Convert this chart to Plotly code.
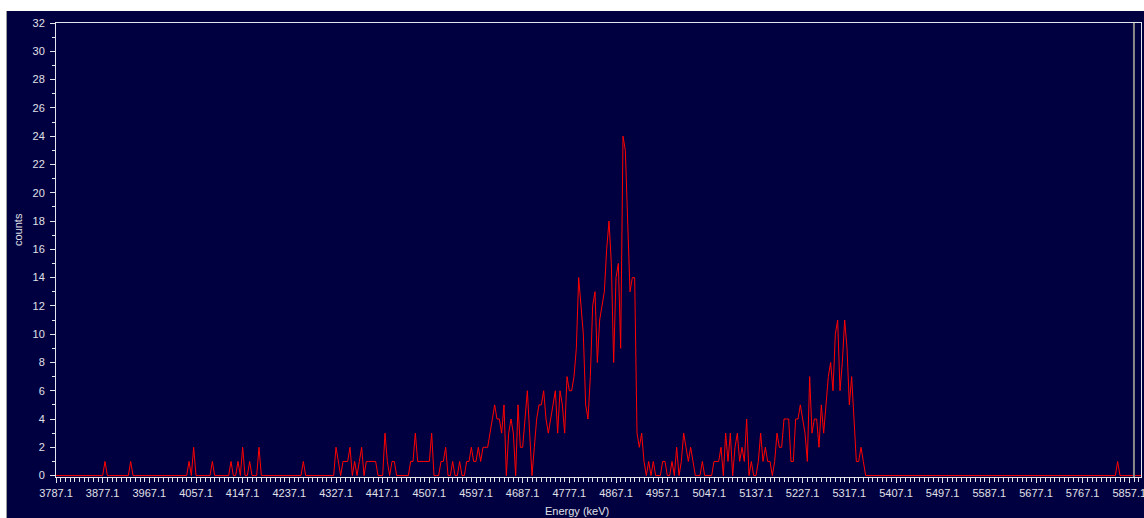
import numpy as np
import plotly.graph_objects as go

# Spectrum calibration: first channel energy and channel width (keV)
E0_KEV = 3787.1
BIN_KEV = 4.5

# Counts per channel (466 channels, 3787.1 .. 5879.6 keV)
counts = [
    0, 0, 0, 0, 0, 0, 0, 0, 0, 0, 0, 0, 0, 0, 0, 0, 0, 0, 0, 0,
    0, 1, 0, 0, 0, 0, 0, 0, 0, 0, 0, 0, 1, 0, 0, 0, 0, 0, 0, 0,
    0, 0, 0, 0, 0, 0, 0, 0, 0, 0, 0, 0, 0, 0, 0, 0, 0, 1, 0, 2,
    0, 0, 0, 0, 0, 0, 0, 1, 0, 0, 0, 0, 0, 0, 0, 1, 0, 0, 1, 0,
    2, 0, 0, 1, 0, 0, 0, 2, 0, 0, 0, 0, 0, 0, 0, 0, 0, 0, 0, 0,
    0, 0, 0, 0, 0, 0, 1, 0, 0, 0, 0, 0, 0, 0, 0, 0, 0, 0, 0, 0,
    2, 1, 0, 1, 1, 1, 2, 0, 1, 0, 1, 2, 0, 1, 1, 1, 1, 1, 0, 0,
    0, 3, 1, 0, 1, 1, 0, 0, 0, 0, 0, 0, 1, 1, 3, 1, 1, 1, 1, 1,
    1, 3, 0, 0, 0, 1, 1, 2, 0, 0, 1, 0, 0, 1, 0, 0, 1, 1, 2, 1,
    1, 2, 1, 2, 2, 2, 3, 4, 5, 4, 4, 3, 5, 0, 3, 4, 3, 0, 5, 2,
    2, 4, 6, 3, 0, 2, 4, 5, 5, 6, 4, 3, 4, 5, 6, 3, 6, 5, 3, 7,
    6, 6, 7, 9, 14, 12, 10, 5, 4, 7, 12, 13, 8, 11, 12, 13, 16, 18, 15, 8,
    14, 15, 9, 24, 23, 18, 13, 14, 14, 3, 2, 3, 1, 0, 1, 0, 1, 0, 0, 0,
    1, 1, 0, 0, 1, 0, 2, 0, 1, 3, 2, 1, 2, 1, 0, 0, 0, 1, 0, 0,
    0, 0, 1, 1, 1, 2, 0, 3, 1, 3, 0, 2, 3, 1, 2, 1, 4, 0, 1, 0,
    0, 1, 3, 1, 2, 1, 1, 0, 1, 3, 2, 2, 4, 4, 4, 1, 1, 4, 4, 5,
    4, 3, 1, 7, 3, 4, 4, 2, 5, 3, 5, 7, 8, 6, 10, 11, 6, 8, 11, 9,
    5, 7, 4, 1, 1, 2, 1, 0, 0, 0, 0, 0, 0, 0, 0, 0, 0, 0, 0, 0,
    0, 0, 0, 0, 0, 0, 0, 0, 0, 0, 0, 0, 0, 0, 0, 0, 0, 0, 0, 0,
    0, 0, 0, 0, 0, 0, 0, 0, 0, 0, 0, 0, 0, 0, 0, 0, 0, 0, 0, 0,
    0, 0, 0, 0, 0, 0, 0, 0, 0, 0, 0, 0, 0, 0, 0, 0, 0, 0, 0, 0,
    0, 0, 0, 0, 0, 0, 0, 0, 0, 0, 0, 0, 0, 0, 0, 0, 0, 0, 0, 0,
    0, 0, 0, 0, 0, 0, 0, 0, 0, 0, 0, 0, 0, 0, 0, 1, 0, 0, 0, 0,
    0, 0, 0, 0, 0, 0,
]

energy = E0_KEV + BIN_KEV * np.arange(len(counts))

X_RANGE = [3787.1, 5879.6]
Y_RANGE = [-0.1, 32]
CURSOR_KEV = 5866.0

NAVY = "#000040"
AXIS = "#e4e4ec"
TEXT = "#e0e0e8"
FONT = "Liberation Sans, Arial, sans-serif"

fig = go.Figure()
fig.add_trace(go.Scatter(
    x=energy, y=counts, mode="lines",
    line=dict(color="#ff0000", width=1),
    hoverinfo="skip", showlegend=False,
))

# Cursor marker near the right edge
fig.add_shape(type="line", xref="x", yref="paper",
              x0=CURSOR_KEV, x1=CURSOR_KEV, y0=0, y1=1,
              line=dict(color="#8a8a8a", width=2))

# White strips framing the dark panel (top and left edges of the window)
fig.add_shape(type="rect", xref="paper", yref="paper", layer="above",
              x0=-0.06, x1=1.01, y0=(477 - 11) / 454, y1=1.1,
              fillcolor="white", line=dict(width=0))
fig.add_shape(type="rect", xref="paper", yref="paper", layer="above",
              x0=-0.06, x1=(6 - 56) / 1085, y0=-0.1, y1=1.1,
              fillcolor="white", line=dict(width=0))
fig.add_shape(type="line", xref="paper", yref="paper", layer="above",
              x0=(6.5 - 56) / 1085, x1=(6.5 - 56) / 1085,
              y0=-0.1, y1=(477 - 11) / 454,
              line=dict(color="#9a9a9a", width=1))

fig.add_annotation(text="counts", xref="paper", yref="paper",
                   x=(18 - 56) / 1085, y=(477 - 230) / 454,
                   xanchor="center", yanchor="middle",
                   textangle=-90, showarrow=False,
                   font=dict(family=FONT, size=11, color=TEXT))
fig.add_annotation(text="Energy (keV)", xref="paper", yref="paper",
                   x=(577 - 56) / 1085, y=(477 - 511) / 454,
                   xanchor="center", yanchor="middle",
                   showarrow=False,
                   font=dict(family=FONT, size=11, color=TEXT))

fig.update_layout(
    width=1144, height=518,
    margin=dict(l=56, r=3, t=23, b=41, autoexpand=False),
    paper_bgcolor=NAVY, plot_bgcolor=NAVY,
    font=dict(family=FONT, size=11, color=TEXT),
    xaxis=dict(
        range=X_RANGE, showgrid=False, zeroline=False, automargin=False,
        tickmode="linear", tick0=E0_KEV, dtick=90, tickformat=".1f",
        ticks="outside", ticklen=5, tickcolor=AXIS, tickwidth=1,
        minor=dict(ticks="outside", tick0=E0_KEV, dtick=9, ticklen=4,
                   tickcolor=AXIS, tickwidth=1, showgrid=False),
        showline=True, linecolor=AXIS, linewidth=1, mirror=True,
        tickfont=dict(family=FONT, size=11, color=TEXT),
        ticklabelstandoff=1, ticklabeloverflow="allow",
    ),
    yaxis=dict(
        range=Y_RANGE, showgrid=False, zeroline=False, automargin=False,
        tickmode="linear", tick0=0, dtick=2,
        ticks="outside", ticklen=5, tickcolor=AXIS, tickwidth=1,
        minor=dict(ticks="outside", tick0=0, dtick=1, ticklen=3,
                   tickcolor=AXIS, tickwidth=1, showgrid=False),
        showline=True, linecolor=AXIS, linewidth=1, mirror=True,
        tickfont=dict(family=FONT, size=11, color=TEXT),
        ticklabelstandoff=3,
    ),
)

fig.write_html("out.html")
